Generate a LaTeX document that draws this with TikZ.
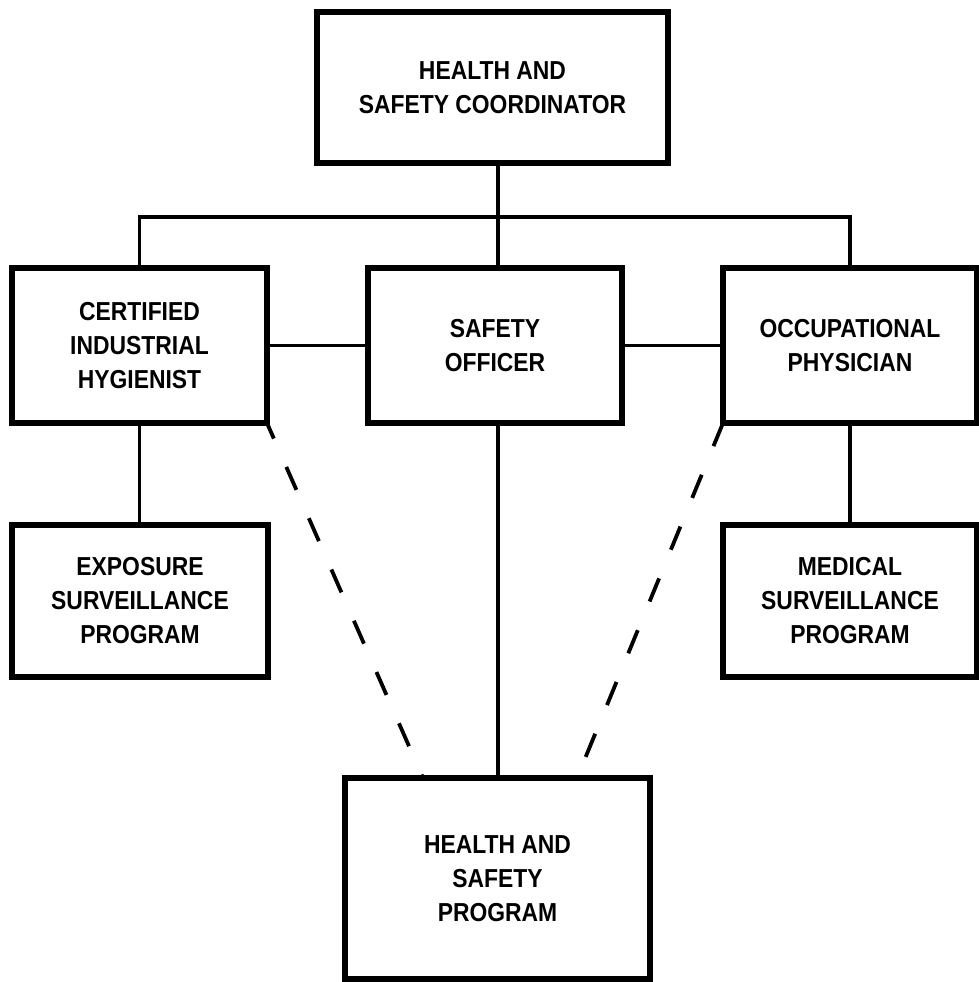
\documentclass[tikz,border=0pt]{standalone}
\usepackage{fontspec}
\newfontfamily\orgfont{Liberation Sans}[FakeStretch=0.88]
\begin{document}
\begin{tikzpicture}[x=1pt,y=-1pt,
  orgbox/.style={draw,line width=5.5pt,rectangle,inner sep=0pt,outer sep=0pt,align=center,
    font=\orgfont\bfseries\fontsize{26}{34}\selectfont},
  orgline/.style={line width=3.8pt},
  dashline/.style={line width=3.8pt,dash pattern=on 25pt off 31pt}]
\useasboundingbox (0,0) rectangle (978,982);
\node[orgbox,minimum width=351pt,minimum height=151pt] (hsc) at (492.5,87.5) {HEALTH AND\\SAFETY COORDINATOR};
\node[orgbox,minimum width=255pt,minimum height=155pt] (cih) at (139.5,345.5) {CERTIFIED\\INDUSTRIAL\\HYGIENIST};
\node[orgbox,minimum width=254pt,minimum height=155pt] (so) at (495,345.5) {SAFETY\\OFFICER};
\node[orgbox,minimum width=254pt,minimum height=155pt] (op) at (850,345.5) {OCCUPATIONAL\\PHYSICIAN};
\node[orgbox,minimum width=256pt,minimum height=152pt] (esp) at (140,601) {EXPOSURE\\SURVEILLANCE\\PROGRAM};
\node[orgbox,minimum width=254pt,minimum height=152pt] (msp) at (850,601) {MEDICAL\\SURVEILLANCE\\PROGRAM};
\node[orgbox,minimum width=305pt,minimum height=201pt] (hsp) at (497.5,878.5) {HEALTH AND\\SAFETY\\PROGRAM};
\coordinate (bar) at (498,217);
\draw[orgline] (cih.north) |- (bar) -| (op.north);
\draw[orgline] (hsc.south -| bar) -- (so.north -| bar);
\draw[orgline] (cih.east) -- (so.west);
\draw[orgline] (so.east) -- (op.west);
\draw[orgline] (cih.south) -- (cih.south |- esp.north);
\draw[orgline] (op.south) -- (op.south |- msp.north);
\draw[orgline] (so.south -| bar) -- (hsp.north -| bar);
\draw[dashline,dash phase=8pt] (cih.south east) -- ([xshift=78pt]hsp.north west);
\draw[dashline] (op.south west) -- ([xshift=-73pt]hsp.north east);
\end{tikzpicture}
\end{document}
